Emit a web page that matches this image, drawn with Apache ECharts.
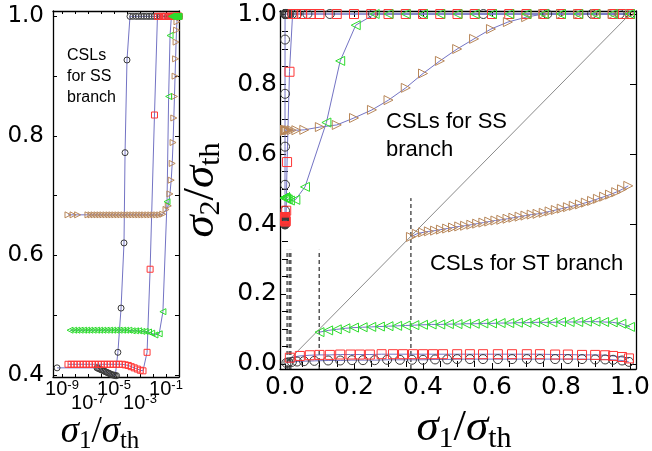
<!DOCTYPE html>
<html>
<head>
<meta charset="utf-8">
<script src="https://cdn.jsdelivr.net/npm/echarts@6/dist/echarts.min.js"></script>
<style>
  html, body { margin: 0; padding: 0; background: #fff; }
  #chart { width: 652px; height: 451px; }
</style>
</head>
<body>
<div id="chart"></div>
<script>
// SS branch, [sigma1/sigma_th, sigma2/sigma_th] (shown in both panels)
const ssBlack = [
  [4.2e-10, 0.412], [4.9e-7, 0.412], [6.3e-7, 0.411], [7.9e-7, 0.410], [1.0e-6, 0.409], [1.26e-6, 0.408],
  [1.58e-6, 0.407], [2.0e-6, 0.406], [2.5e-6, 0.405], [3.16e-6, 0.404], [4.0e-6, 0.403], [5.0e-6, 0.402],
  [6.3e-6, 0.401], [7.9e-6, 0.400], [1.0e-5, 0.400], [1.26e-5, 0.399], [1.58e-5, 0.399],
  [2.0e-5, 0.438], [3.5e-5, 0.512], [5.9e-5, 0.621], [7.1e-5, 0.772], [1.0e-4, 0.927], [1.7e-4, 1],
  [2.8e-4, 1], [5.0e-4, 1], [7.9e-4, 1], [1.26e-3, 1], [2.0e-3, 1], [3.2e-3, 1], [5.0e-3, 1], [7.9e-3, 1],
  [0.0126, 1], [0.02, 1], [0.035, 1], [0.065, 1], [0.13, 1], [0.255, 1], [0.4, 1], [0.575, 1], [0.76, 1],
  [0.89, 1], [0.97, 1], [1, 1]
];
const ssRed = [
  [2.9e-9, 0.418], [5.0e-9, 0.418], [8.5e-9, 0.418], [1.45e-8, 0.418], [2.5e-8, 0.418], [4.3e-8, 0.418],
  [7.2e-8, 0.418], [1.26e-7, 0.418], [2.1e-7, 0.418], [3.6e-7, 0.418], [6.3e-7, 0.418], [1.05e-6, 0.418],
  [1.8e-6, 0.418], [3.0e-6, 0.418], [5.0e-6, 0.418], [8.7e-6, 0.418], [1.5e-5, 0.418], [2.5e-5, 0.418],
  [4.4e-5, 0.418], [7.4e-5, 0.417], [1.26e-4, 0.416], [2.1e-4, 0.414], [3.6e-4, 0.412], [6.3e-4, 0.410],
  [1.05e-3, 0.408], [1.7e-3, 0.407],
  [3.5e-3, 0.438], [6.0e-3, 0.577], [0.013, 0.835], [0.022, 1],
  [0.032, 1], [0.05, 1], [0.075, 1], [0.1, 1], [0.15, 1], [0.2, 1], [0.25, 1], [0.3, 1], [0.35, 1],
  [0.4, 1], [0.45, 1], [0.5, 1], [0.55, 1], [0.6, 1], [0.65, 1], [0.7, 1], [0.75, 1], [0.8, 1],
  [0.85, 1], [0.9, 1], [0.95, 1], [0.98, 1], [1, 1]
];
const ssGreen = [
  [4.2e-9, 0.475], [7.9e-9, 0.475], [1.4e-8, 0.475], [2.5e-8, 0.475], [4.5e-8, 0.475], [7.9e-8, 0.475],
  [1.4e-7, 0.475], [2.5e-7, 0.475], [4.5e-7, 0.475], [7.9e-7, 0.475], [1.4e-6, 0.475], [2.5e-6, 0.475],
  [4.5e-6, 0.475], [7.9e-6, 0.475], [1.4e-5, 0.475], [2.5e-5, 0.475], [4.5e-5, 0.475], [7.9e-5, 0.475],
  [1.4e-4, 0.475], [2.5e-4, 0.474], [4.5e-4, 0.474], [7.9e-4, 0.474], [1.4e-3, 0.473], [2.5e-3, 0.473],
  [4.5e-3, 0.472], [7.9e-3, 0.470],
  [0.0141, 0.467], [0.03, 0.469], [0.058, 0.506], [0.12, 0.69], [0.16, 0.866], [0.205, 0.968], [0.26, 1],
  [0.3, 1], [0.35, 1], [0.4, 1], [0.45, 1], [0.5, 1], [0.55, 1], [0.6, 1], [0.65, 1], [0.7, 1],
  [0.75, 1], [0.8, 1], [0.85, 1], [0.9, 1], [0.95, 1], [1, 1]
];
const ssBrown = [
  [2.9e-9, 0.668], [7.1e-9, 0.668], [1.6e-8, 0.668],
  [1.0e-7, 0.668], [1.7e-7, 0.668], [2.9e-7, 0.668], [4.9e-7, 0.668], [8.3e-7, 0.668], [1.4e-6, 0.668],
  [2.4e-6, 0.668], [4.1e-6, 0.668], [6.9e-6, 0.668], [1.17e-5, 0.668], [2.0e-5, 0.668], [3.4e-5, 0.668],
  [5.8e-5, 0.668], [9.8e-5, 0.668], [1.66e-4, 0.668], [2.8e-4, 0.668], [4.8e-4, 0.668], [8.1e-4, 0.668],
  [1.38e-3, 0.668], [2.3e-3, 0.668], [4.0e-3, 0.668], [6.8e-3, 0.668], [0.0115, 0.668], [0.0195, 0.668],
  [0.033, 0.668], [0.056, 0.669],
  [0.101, 0.677], [0.15, 0.683], [0.2, 0.703], [0.252, 0.726], [0.3, 0.754], [0.35, 0.789], [0.4, 0.83],
  [0.449, 0.866], [0.499, 0.9], [0.548, 0.929], [0.597, 0.957], [0.646, 0.977], [0.699, 0.991],
  [0.748, 1], [0.8, 1], [0.85, 1], [0.9, 1], [0.95, 1], [1, 1]
];

// ST branch (right panel only)
const stBlack = [
  [0.004, 0.003], [0.01, 0.005], [0.02, 0.006], [0.035, 0.007], [0.055, 0.008], [0.085, 0.009],
  [0.125, 0.010], [0.16, 0.010], [0.194, 0.011], [0.226, 0.011], [0.26, 0.011], [0.296, 0.012],
  [0.333, 0.012], [0.368, 0.012], [0.4, 0.012], [0.435, 0.013], [0.47, 0.013], [0.499, 0.014],
  [0.536, 0.014], [0.574, 0.014], [0.617, 0.014], [0.658, 0.014], [0.701, 0.014], [0.739, 0.014],
  [0.783, 0.014], [0.82, 0.014], [0.861, 0.014], [0.899, 0.013], [0.928, 0.013], [0.951, 0.012],
  [0.977, 0.010], [0.997, 0.006]
];
const stRed = [
  [0.014, 0.018], [0.043, 0.023], [0.072, 0.025], [0.1, 0.026], [0.13, 0.026], [0.16, 0.027],
  [0.19, 0.027], [0.217, 0.027], [0.246, 0.027], [0.28, 0.028], [0.313, 0.028], [0.342, 0.028],
  [0.371, 0.028], [0.4, 0.028], [0.429, 0.028], [0.458, 0.028], [0.499, 0.028], [0.536, 0.028],
  [0.574, 0.028], [0.617, 0.028], [0.658, 0.028], [0.701, 0.028], [0.739, 0.028], [0.783, 0.027],
  [0.82, 0.027], [0.861, 0.026], [0.899, 0.026], [0.928, 0.025], [0.951, 0.023], [0.977, 0.020],
  [0.997, 0.016]
];
const stGreen = [
  [0.1, 0.091], [0.125, 0.096], [0.15, 0.099], [0.175, 0.102], [0.2, 0.104], [0.225, 0.105],
  [0.25, 0.106], [0.275, 0.107], [0.3, 0.108], [0.325, 0.109], [0.35, 0.110], [0.375, 0.111],
  [0.4, 0.112], [0.425, 0.113], [0.45, 0.113], [0.475, 0.114], [0.5, 0.114], [0.525, 0.115],
  [0.55, 0.115], [0.575, 0.116], [0.6, 0.116], [0.625, 0.117], [0.65, 0.117], [0.675, 0.118],
  [0.7, 0.118], [0.725, 0.119], [0.75, 0.119], [0.775, 0.119], [0.8, 0.120], [0.825, 0.120],
  [0.85, 0.120], [0.875, 0.121], [0.9, 0.121], [0.925, 0.120], [0.95, 0.119], [0.975, 0.115],
  [1.0, 0.106]
];
const stBrown = [
  [0.365, 0.363], [0.382, 0.372], [0.4, 0.376], [0.417, 0.379], [0.435, 0.381], [0.452, 0.384],
  [0.47, 0.387], [0.487, 0.390], [0.505, 0.393], [0.522, 0.395], [0.54, 0.398], [0.557, 0.401],
  [0.575, 0.404], [0.592, 0.407], [0.61, 0.410], [0.627, 0.412], [0.645, 0.415], [0.662, 0.418],
  [0.68, 0.421], [0.697, 0.424], [0.715, 0.427], [0.732, 0.429], [0.75, 0.432], [0.767, 0.436],
  [0.785, 0.440], [0.802, 0.444], [0.82, 0.448], [0.837, 0.452], [0.855, 0.456], [0.872, 0.461],
  [0.89, 0.466], [0.907, 0.472], [0.925, 0.478], [0.942, 0.484], [0.96, 0.491], [0.977, 0.499],
  [0.995, 0.509]
];

const diagonal = [[0, 0], [1, 1]];
const dashX = [0.006, 0.012, 0.017, 0.099, 0.365];
const dashTop = [0.326, 0.326, 0.326, 0.326, 0.474];

// axes
const leftXRange = [2.04e-10, 1];
const leftYRange = [0.3967, 1.009];
const rightXRange = [-0.0145, 1.0174];
const rightYRange = [-0.0143, 1.0086];
const leftXLabelsUpper = [1e-9, 1e-5, 1e-1];
const leftXLabelsLower = [1e-7, 1e-3];
const leftXTicks = [1e-9, 1e-8, 1e-7, 1e-6, 1e-5, 1e-4, 1e-3, 1e-2, 1e-1];
const leftYLabels = [0.4, 0.6, 0.8, 1.0];
const leftYTicks = [0.4, 0.5, 0.6, 0.7, 0.8, 0.9, 1.0];
const rightMajor = [0, 0.2, 0.4, 0.6, 0.8, 1.0];
const rightMinor = [0.05, 0.1, 0.15, 0.25, 0.3, 0.35, 0.45, 0.5, 0.55, 0.65, 0.7, 0.75, 0.85, 0.9, 0.95];

const lineBlue = '#7373c4';
const frame = { show: true, onZero: false, lineStyle: { color: '#000', width: 1.3 } };
const sigmaRich = (big, small) => ({
  s: { fontFamily: 'Liberation Serif', fontStyle: 'italic', fontSize: big, lineHeight: big + 6, color: '#000' },
  sl: { fontFamily: 'Liberation Serif', fontSize: big, lineHeight: big + 6, color: '#000' },
  sub: { fontFamily: 'Liberation Serif', fontSize: small, lineHeight: small, verticalAlign: 'bottom', color: '#000' }
});
const powRich = {
  b: { fontFamily: 'Liberation Sans', fontSize: 20, lineHeight: 20, color: '#000' },
  e: { fontFamily: 'Liberation Sans', fontSize: 13, lineHeight: 13, verticalAlign: 'top', color: '#000' }
};

function axis(o) {
  return Object.assign({
    type: 'value', axisLine: frame, axisTick: { show: false }, axisLabel: { show: false },
    splitLine: { show: false }
  }, o);
}
function ticks(values, len) {
  return { show: true, inside: true, length: len, customValues: values, lineStyle: { color: '#000', width: 1 } };
}
const logLabel = v => '{b|10}{e|-' + Math.abs(Math.round(Math.log10(v))) + '}';
function powLabels(values, margin) {
  return { show: true, customValues: values, formatter: logLabel, margin: margin,
    showMinLabel: true, showMaxLabel: true, hideOverlap: false, rich: powRich };
}

const xAxis = [
  axis({ gridIndex: 0, type: 'log', logBase: 10, min: leftXRange[0], max: leftXRange[1], position: 'bottom',
    axisTick: ticks(leftXTicks, 3), axisLabel: powLabels(leftXLabelsUpper, 2),
    name: '{s|σ}{sub|1}{sl|/}{s|σ}{sub|th}', nameLocation: 'middle', nameGap: 34,
    nameTextStyle: { rich: sigmaRich(37, 25), padding: [0, 32, 0, 0] } }),
  axis({ gridIndex: 0, type: 'log', logBase: 10, min: leftXRange[0], max: leftXRange[1], position: 'bottom',
    axisLine: { show: false }, axisLabel: powLabels(leftXLabelsLower, 16) }),
  axis({ gridIndex: 0, type: 'log', logBase: 10, min: leftXRange[0], max: leftXRange[1], position: 'top',
    axisTick: ticks(leftXTicks, 3) }),
  axis({ gridIndex: 1, min: rightXRange[0], max: rightXRange[1], position: 'bottom',
    axisTick: ticks(rightMajor, 6),
    axisLabel: { show: true, customValues: rightMajor, formatter: v => v.toFixed(1), margin: 6,
      fontFamily: 'DejaVu Sans', fontSize: 25, color: '#000' },
    name: '{s|σ}{sub|1}{sl|/}{s|σ}{sub|th}', nameLocation: 'middle', nameGap: 34,
    nameTextStyle: { rich: sigmaRich(45, 30), padding: [0, 0, 0, 12] } }),
  axis({ gridIndex: 1, min: rightXRange[0], max: rightXRange[1], position: 'bottom',
    axisLine: { show: false }, axisTick: ticks(rightMinor, 3) }),
  axis({ gridIndex: 1, min: rightXRange[0], max: rightXRange[1], position: 'top',
    axisTick: ticks(rightMajor, 6) }),
  axis({ gridIndex: 1, min: rightXRange[0], max: rightXRange[1], position: 'top',
    axisLine: { show: false }, axisTick: ticks(rightMinor, 3) })
];

const yAxis = [
  axis({ gridIndex: 0, min: leftYRange[0], max: leftYRange[1], position: 'left',
    axisTick: ticks(leftYTicks, 4),
    axisLabel: { show: true, customValues: leftYLabels, formatter: v => v.toFixed(1), margin: 9,
      fontFamily: 'DejaVu Sans', fontSize: 23, color: '#000' } }),
  axis({ gridIndex: 0, min: leftYRange[0], max: leftYRange[1], position: 'right',
    axisTick: ticks(leftYTicks, 4) }),
  axis({ gridIndex: 1, min: rightYRange[0], max: rightYRange[1], position: 'left',
    axisTick: ticks(rightMajor, 6),
    axisLabel: { show: true, customValues: rightMajor, formatter: v => v.toFixed(1), margin: 3,
      fontFamily: 'DejaVu Sans', fontSize: 25, color: '#000' },
    name: '{s|σ}{sub|2}{sl|/}{s|σ}{sub|th}', nameLocation: 'middle', nameGap: 45, nameRotate: 90,
    nameTextStyle: { rich: sigmaRich(45, 30) } }),
  axis({ gridIndex: 1, min: rightYRange[0], max: rightYRange[1], position: 'left',
    axisLine: { show: false }, axisTick: ticks(rightMinor, 3) }),
  axis({ gridIndex: 1, min: rightYRange[0], max: rightYRange[1], position: 'right',
    axisTick: ticks(rightMajor, 6) }),
  axis({ gridIndex: 1, min: rightYRange[0], max: rightYRange[1], position: 'right',
    axisLine: { show: false }, axisTick: ticks(rightMinor, 3) })
];

const marks = {
  black: { symbol: 'circle', rotate: 0, color: '#3a3a3a' },
  red: { symbol: 'rect', rotate: 0, color: '#ff3535' },
  green: { symbol: 'triangle', rotate: 90, color: '#2ddc2d' },
  brown: { symbol: 'triangle', rotate: -90, color: '#b8875a' }
};

function curve(data, m, left) {
  return {
    type: 'line', data: data, xAxisIndex: left ? 0 : 3, yAxisIndex: left ? 0 : 2,
    symbol: m.symbol, symbolRotate: m.rotate, symbolSize: left ? 6 : 9,
    showSymbol: true, clip: false, z: 3, silent: true,
    lineStyle: { color: lineBlue, width: 1 },
    itemStyle: { color: 'rgba(0,0,0,0)', borderColor: m.color, borderWidth: 1 }
  };
}

const series = [];
// reference diagonal and dashed markers
series.push({
  type: 'line', data: diagonal, xAxisIndex: 3, yAxisIndex: 2, symbol: 'none', z: 1, silent: true,
  lineStyle: { color: '#8a8a8a', width: 1 }
});
dashX.forEach((x, i) => {
  series.push({
    type: 'line', data: [[x, rightYRange[0]], [x, dashTop[i]]], xAxisIndex: 3, yAxisIndex: 2,
    symbol: 'none', z: 1, silent: true, lineStyle: { color: '#000', width: 1, type: [4, 3] }
  });
});
// left panel: SS branch on log axis
series.push(curve(ssBlack, marks.black, true));
series.push(curve(ssRed, marks.red, true));
series.push(curve(ssBrown, marks.brown, true));
series.push(curve(ssGreen, marks.green, true));
// right panel
series.push(curve(stBlack, marks.black, false));
series.push(curve(stRed, marks.red, false));
series.push(curve(stBrown, marks.brown, false));
series.push(curve(stGreen, marks.green, false));
series.push(curve(ssBlack, marks.black, false));
series.push(curve(ssRed, marks.red, false));
series.push(curve(ssBrown, marks.brown, false));
series.push(curve(ssGreen, marks.green, false));

const chart = echarts.init(document.getElementById('chart'));
chart.setOption({
  animation: false,
  backgroundColor: '#fff',
  grid: [
    { left: 53, top: 11, width: 126, height: 366, outerBoundsMode: 'none', containLabel: false },
    { left: 280, top: 11, width: 356, height: 358, outerBoundsMode: 'none', containLabel: false }
  ],
  xAxis: xAxis,
  yAxis: yAxis,
  series: series,
  graphic: [
    { type: 'text', left: 67, top: 45,
      style: { text: 'CSLs\nfor SS\nbranch', fontFamily: 'Liberation Sans', fontSize: 16, lineHeight: 21, fill: '#000' } },
    { type: 'text', left: 386, top: 108,
      style: { text: 'CSLs for SS\nbranch', fontFamily: 'Liberation Sans', fontSize: 22, lineHeight: 28, fill: '#000' } },
    { type: 'text', left: 430, top: 253,
      style: { text: 'CSLs for ST branch', fontFamily: 'Liberation Sans', fontSize: 22, fill: '#000' } }
  ]
});
</script>
</body>
</html>
